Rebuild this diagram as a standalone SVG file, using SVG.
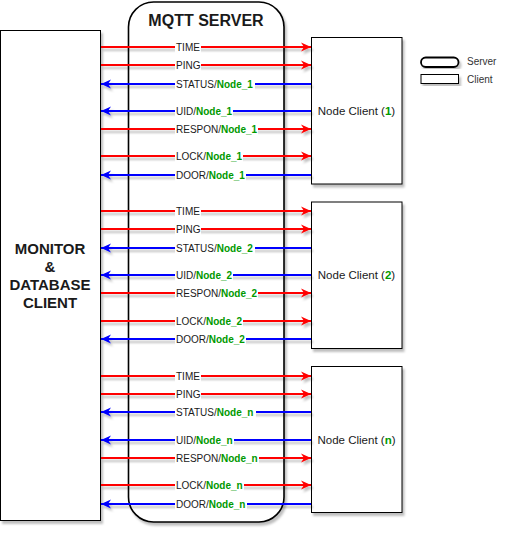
<svg xmlns="http://www.w3.org/2000/svg" width="508" height="535" viewBox="0 0 508 535">
<defs>
<filter id="sh" x="-10%" y="-10%" width="130%" height="130%">
<feDropShadow dx="2" dy="3" stdDeviation="1" flood-color="#000" flood-opacity="0.25"/>
</filter>
<marker id="ar" markerUnits="userSpaceOnUse" markerWidth="11" markerHeight="10" refX="10" refY="5" orient="auto" viewBox="0 0 11 10">
<path d="M0,0.5 L10,5 L0,9.5 L3,5 z" fill="#ff0000"/>
</marker>
<marker id="ab" markerUnits="userSpaceOnUse" markerWidth="11" markerHeight="10" refX="10" refY="5" orient="auto" viewBox="0 0 11 10">
<path d="M0,0.5 L10,5 L0,9.5 L3,5 z" fill="#0000ff"/>
</marker>
</defs>
<style>
.box{fill:#fff;stroke:#000;stroke-width:1}
.srv{fill:#fff;stroke:#000;stroke-width:1.6}
.r{stroke:#ff0000;stroke-width:2;fill:none;marker-end:url(#ar)}
.b{stroke:#0000ff;stroke-width:2;fill:none;marker-end:url(#ab)}
.lb{font-family:"Liberation Sans",Arial,sans-serif;font-size:10px;fill:#1a1a1a}
.bg{fill:#fff}
.g{fill:#009900;font-weight:bold}
.nt{font-family:"Liberation Sans",Arial,sans-serif;font-size:11.5px;fill:#1a1a1a;text-anchor:middle}
.big{font-family:"Liberation Sans",Arial,sans-serif;font-weight:bold;fill:#1a1a1a;text-anchor:middle}
.lg{font-family:"Liberation Sans",Arial,sans-serif;font-size:10px;fill:#333}
</style>
<g id="server"><rect class="srv" x="128.5" y="2" width="155.5" height="520" rx="25" ry="25" filter="url(#sh)"/>
<text class="big" x="206" y="26" font-size="16">MQTT SERVER</text></g>
<g id="monitor"><rect class="box" x="0.5" y="30.5" width="100" height="490" filter="url(#sh)"/>
<text class="big" font-size="15" x="50" y="254">MONITOR</text>
<text class="big" font-size="15" x="50" y="272">&amp;</text>
<text class="big" font-size="15" x="50" y="290">DATABASE</text>
<text class="big" font-size="15" x="50" y="308">CLIENT</text></g>
<g id="node1"><rect class="box" x="311.5" y="37.5" width="90.5" height="146.5" filter="url(#sh)"/>
<text class="nt" x="356.5" y="115">Node Client (<tspan class="g">1</tspan>)</text></g>
<g id="node2"><rect class="box" x="311.5" y="202" width="90.5" height="146.5" filter="url(#sh)"/>
<text class="nt" x="356.5" y="279">Node Client (<tspan class="g">2</tspan>)</text></g>
<g id="noden"><rect class="box" x="311.5" y="366.5" width="90.5" height="146" filter="url(#sh)"/>
<text class="nt" x="356.5" y="444">Node Client (<tspan class="g">n</tspan>)</text></g>
<g id="legend">
<rect x="421" y="57.5" width="37.5" height="9.5" rx="4.75" ry="4.75" fill="#fff" stroke="#000" stroke-width="1.8" filter="url(#sh)"/>
<rect x="421" y="74.5" width="37.5" height="9" class="box" filter="url(#sh)"/>
<text class="lg" x="467" y="65">Server</text>
<text class="lg" x="467" y="82.5">Client</text>
</g>
<g id="connectors">
<g filter="url(#sh)">
<path class="r" d="M101,47H311"/><path class="r" d="M101,65H311"/><path class="b" d="M311,84H101"/>
<path class="b" d="M311,111H101"/><path class="r" d="M101,129H311"/><path class="r" d="M101,156H311"/><path class="b" d="M311,175H101"/>
<path class="r" d="M101,211H311"/><path class="r" d="M101,229H311"/><path class="b" d="M311,248H101"/>
<path class="b" d="M311,275H101"/><path class="r" d="M101,293H311"/><path class="r" d="M101,321H311"/><path class="b" d="M311,339H101"/>
<path class="r" d="M101,376H311"/><path class="r" d="M101,394H311"/><path class="b" d="M311,412H101"/>
<path class="b" d="M311,440H101"/><path class="r" d="M101,458H311"/><path class="r" d="M101,485H311"/><path class="b" d="M311,504H101"/>
</g>
<g id="labels">
<rect class="bg" x="175" y="41" width="26" height="12"/><text class="lb" x="176" y="50.5">TIME</text>
<rect class="bg" x="175" y="59" width="26" height="12"/><text class="lb" x="176" y="68.5">PING</text>
<rect class="bg" x="175" y="78" width="80" height="12"/><text class="lb" x="176" y="87.5">STATUS/<tspan class="g">Node_1</tspan></text>
<rect class="bg" x="175" y="105" width="58" height="12"/><text class="lb" x="176" y="114.5">UID/<tspan class="g">Node_1</tspan></text>
<rect class="bg" x="175" y="123" width="83" height="12"/><text class="lb" x="176" y="132.5">RESPON/<tspan class="g">Node_1</tspan></text>
<rect class="bg" x="175" y="150" width="68" height="12"/><text class="lb" x="176" y="159.5">LOCK/<tspan class="g">Node_1</tspan></text>
<rect class="bg" x="175" y="169" width="71" height="12"/><text class="lb" x="176" y="178.5">DOOR/<tspan class="g">Node_1</tspan></text>

<rect class="bg" x="175" y="205" width="26" height="12"/><text class="lb" x="176" y="214.5">TIME</text>
<rect class="bg" x="175" y="223" width="26" height="12"/><text class="lb" x="176" y="232.5">PING</text>
<rect class="bg" x="175" y="242" width="80" height="12"/><text class="lb" x="176" y="251.5">STATUS/<tspan class="g">Node_2</tspan></text>
<rect class="bg" x="175" y="269" width="58" height="12"/><text class="lb" x="176" y="278.5">UID/<tspan class="g">Node_2</tspan></text>
<rect class="bg" x="175" y="287" width="83" height="12"/><text class="lb" x="176" y="296.5">RESPON/<tspan class="g">Node_2</tspan></text>
<rect class="bg" x="175" y="315" width="68" height="12"/><text class="lb" x="176" y="324.5">LOCK/<tspan class="g">Node_2</tspan></text>
<rect class="bg" x="175" y="333" width="71" height="12"/><text class="lb" x="176" y="342.5">DOOR/<tspan class="g">Node_2</tspan></text>

<rect class="bg" x="175" y="370" width="26" height="12"/><text class="lb" x="176" y="379.5">TIME</text>
<rect class="bg" x="175" y="388" width="26" height="12"/><text class="lb" x="176" y="397.5">PING</text>
<rect class="bg" x="175" y="406" width="81" height="12"/><text class="lb" x="176" y="415.5">STATUS/<tspan class="g">Node_n</tspan></text>
<rect class="bg" x="175" y="434" width="59" height="12"/><text class="lb" x="176" y="443.5">UID/<tspan class="g">Node_n</tspan></text>
<rect class="bg" x="175" y="452" width="84" height="12"/><text class="lb" x="176" y="461.5">RESPON/<tspan class="g">Node_n</tspan></text>
<rect class="bg" x="175" y="479" width="69" height="12"/><text class="lb" x="176" y="488.5">LOCK/<tspan class="g">Node_n</tspan></text>
<rect class="bg" x="175" y="498" width="72" height="12"/><text class="lb" x="176" y="507.5">DOOR/<tspan class="g">Node_n</tspan></text>
</g>
</g>
</svg>
